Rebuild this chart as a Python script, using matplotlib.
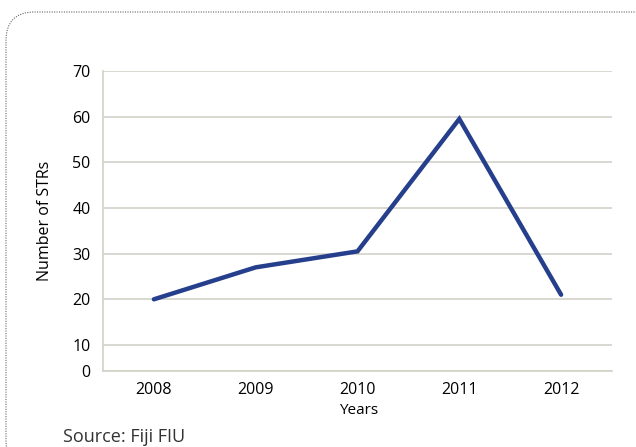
import matplotlib
matplotlib.use("Agg")
import matplotlib.pyplot as plt
from matplotlib.patches import FancyBboxPatch
from matplotlib.transforms import offset_copy

years = ["2008", "2009", "2010", "2011", "2012"]
strs = [20, 27, 30.5, 59.5, 21]
ytick_values = [10, 20, 30, 40, 50, 60, 70]
y_floor = 4.3

W, H = 636, 447
fig = plt.figure(figsize=(W / 100, H / 100), dpi=100)
plt.rcParams['font.family'] = ['Open Sans', 'DejaVu Sans']

# dotted rounded frame around the figure
frame = FancyBboxPatch((6 / W, -0.05), 660 / W, (H - 12) / H + 0.05,
                       boxstyle="round,pad=0,rounding_size=0.045",
                       transform=fig.transFigure, fill=False,
                       edgecolor="#666666", linestyle=(0, (1, 1.2)),
                       linewidth=0.8, mutation_aspect=W / H)
fig.patches.append(frame)

ax = fig.add_axes([103 / W, 1 - 371 / H, (612 - 103) / W, (371 - 71) / H])
grid_c = "#d3d2c8"
x = list(range(len(years)))
ax.plot(x, strs, color="#263f8c", linewidth=3.2, solid_capstyle="round",
        solid_joinstyle="miter", zorder=3)

ax.set_xlim(-0.5, len(years) - 0.5)
ax.set_ylim(y_floor, 70)
ax.set_xticks(x)
ax.set_xticklabels(years, fontsize=11.5)
ax.set_yticks([y_floor] + ytick_values)
ax.set_yticklabels(["0"] + [str(v) for v in ytick_values], fontsize=11.5)
for i, lab in enumerate(ax.get_yticklabels()):
    dy = 6 if i == 0 else 4
    lab.set_transform(offset_copy(lab.get_transform(), fig=fig, x=0, y=dy, units="dots"))
ax.tick_params(length=0, pad=9)
ax.tick_params(axis="x", pad=8)
ax.grid(axis="y", color=grid_c, linewidth=1.2)
ax.set_axisbelow(True)
for s in ["top", "right"]:
    ax.spines[s].set_visible(False)
for s in ["left", "bottom"]:
    ax.spines[s].set_color(grid_c)
    ax.spines[s].set_linewidth(1.2)

fig.text(45 / W, 1 - 221 / H, "Number of STRs", rotation=90, ha="center",
         va="center", fontsize=11.5)
fig.text(359 / W, 1 - 411 / H, "Years", ha="center", va="center", fontsize=11)
fig.text(63 / W, 1 - 437 / H, "Source: Fiji FIU", ha="left", va="center",
         fontsize=13, color="#333333")

fig.savefig("out.png", dpi=100)
